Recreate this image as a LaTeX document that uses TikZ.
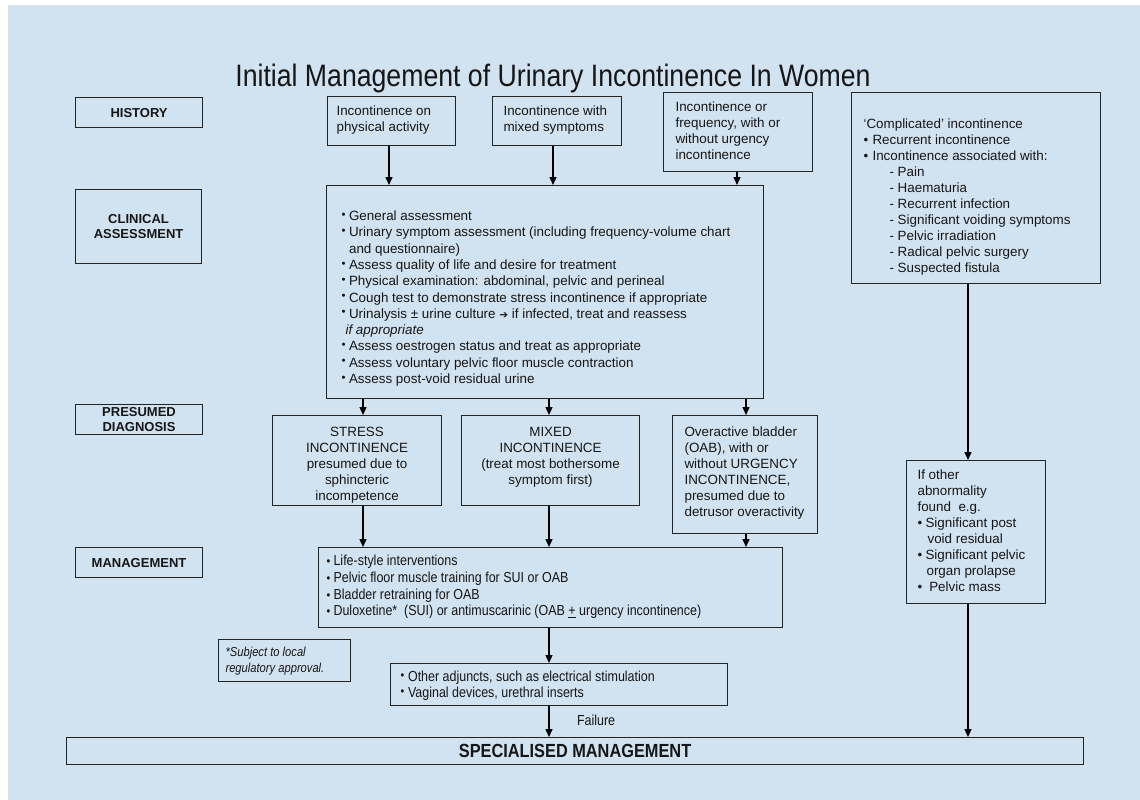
\documentclass[tikz,border=0pt]{standalone}
\usepackage{fontspec}
\setmainfont{Liberation Sans}
\newfontfamily\narrow[FakeStretch=0.86]{Liberation Sans}
\newfontfamily\dejavu{DejaVu Sans}
\usetikzlibrary{arrows.meta}
\definecolor{bgblue}{RGB}{209,226,240}
\definecolor{ink}{RGB}{22,22,22}
\definecolor{edge}{RGB}{35,35,35}
% width, height, first-baseline offset, left skip, alignment, content
\newcommand\bxt[6]{\parbox[c][#2][t]{#1}{#5\leftskip=#4\relax\vspace*{\dimexpr#3-0.7\baselineskip\relax}\strut#6\par}}
\newcommand\cbul{\makebox[7.5pt][l]{\raisebox{2.4pt}{\scalebox{0.85}{•}}}}
\newcommand\sbul[1]{\makebox[#1][l]{•}}
\newcommand\mbul{\makebox[7pt][l]{\scalebox{0.85}{•}}}
\newcommand\bodyfont{\fontsize{13.4}{16}\selectfont}
\newcommand\narrowfont{\narrow\fontsize{14.5}{16.8}\selectfont}
\tikzset{
  box/.style={draw=edge, line width=1.1pt, inner sep=0pt, anchor=north west, text=ink},
  lbl/.style={box, font=\bfseries\fontsize{13}{15.5}\selectfont, align=center},
  arr/.style={draw=black, line width=1.4pt, -{Triangle[length=8pt,width=7pt]}},
}
\begin{document}
\begin{tikzpicture}[x=1pt,y=-1pt]
\useasboundingbox (0,0) rectangle (1140,800);
\fill[white] (0,0) rectangle (1140,800);
\fill[bgblue] (8,5) rectangle (1140,800);

% title
\node[anchor=base, text=ink, font=\narrow\fontsize{31}{36}\selectfont] (title) at (553,86) {Initial Management of Urinary Incontinence In Women};

% row labels
\node[lbl, minimum width=127pt, minimum height=30pt] (lhist) at (75,97) {HISTORY};
\node[lbl, minimum width=126pt, minimum height=74pt] (lclin) at (75,189) {CLINICAL\\ASSESSMENT};
\node[lbl, minimum width=127pt, minimum height=30pt] (lpres) at (75,404) {PRESUMED\\DIAGNOSIS};
\node[lbl, minimum width=127pt, minimum height=30pt] (lman) at (75,547) {MANAGEMENT};

% history
\node[box, font=\bodyfont] (h1) at (327,96) {\bxt{128pt}{49pt}{19pt}{9pt}{\raggedright}{Incontinence on\\physical activity}};
\node[box, font=\bodyfont] (h2) at (492,96) {\bxt{129pt}{49pt}{19pt}{11pt}{\raggedright}{Incontinence with\\mixed symptoms}};
\node[box, font=\bodyfont] (h3) at (663,92) {\bxt{149pt}{79pt}{19pt}{12pt}{\raggedright}{Incontinence or\\frequency, with or\\without urgency\\incontinence}};
\node[box, font=\bodyfont] (comp) at (851,92) {\bxt{249pt}{191pt}{35.5pt}{12pt}{\raggedright}{‘Complicated’ incontinence\\
\sbul{9pt}Recurrent incontinence\\
\sbul{9pt}Incontinence associated with:\\
\hspace*{26pt}- Pain\\
\hspace*{26pt}- Haematuria\\
\hspace*{26pt}- Recurrent infection\\
\hspace*{26pt}- Significant voiding symptoms\\
\hspace*{26pt}- Pelvic irradiation\\
\hspace*{26pt}- Radical pelvic surgery\\
\hspace*{26pt}- Suspected fistula}};

% clinical assessment
\node[box, font=\fontsize{13.4}{16.3}\selectfont] (clin) at (326,185) {\bxt{437pt}{213pt}{35pt}{15pt}{\raggedright}{\cbul General assessment\\
\cbul Urinary symptom assessment (including frequency-volume chart\\
\hspace*{7.5pt}and questionnaire)\\
\cbul Assess quality of life and desire for treatment\\
\cbul Physical examination: abdominal, pelvic and perineal\\
\cbul Cough test to demonstrate stress incontinence if appropriate\\
\cbul Urinalysis ± urine culture {\dejavu\fontsize{10.5}{16}\selectfont ➔} if infected, treat and reassess\\
\hspace*{4pt}\textit{if appropriate}\\
\cbul Assess oestrogen status and treat as appropriate\\
\cbul Assess voluntary pelvic floor muscle contraction\\
\cbul Assess post-void residual urine}};

% presumed diagnosis
\node[box, font=\bodyfont] (stress) at (272,415) {\bxt{169pt}{90pt}{20.5pt}{0pt plus 1fil}{\centering}{STRESS\\INCONTINENCE\\presumed due to\\sphincteric\\incompetence}};
\node[box, font=\bodyfont] (mixed) at (461,415) {\bxt{178pt}{90pt}{20.5pt}{0pt plus 1fil}{\centering}{MIXED\\INCONTINENCE\\(treat most bothersome\\symptom first)}};
\node[box, font=\bodyfont] (oab) at (672,415) {\bxt{145pt}{118pt}{20.5pt}{12pt}{\raggedright}{Overactive bladder\\(OAB), with or\\without URGENCY\\INCONTINENCE,\\presumed due to\\detrusor overactivity}};
\node[box, font=\bodyfont] (other) at (906,460) {\bxt{139pt}{143pt}{18.5pt}{11pt}{\raggedright}{If other\\abnormality\\found\ \ e.g.\\
\sbul{8pt}Significant post\\
\hspace*{10pt}void residual\\
\sbul{8pt}Significant pelvic\\
\hspace*{9pt}organ prolapse\\
\sbul{8pt}\ Pelvic mass}};

% management
\node[box, font=\narrowfont] (mgmt) at (318,547) {\bxt{464pt}{80pt}{18pt}{8pt}{\raggedright}{\mbul Life-style interventions\\
\mbul Pelvic floor muscle training for SUI or OAB\\
\mbul Bladder retraining for OAB\\
\mbul Duloxetine*\ \ (SUI) or antimuscarinic (OAB \underline{+} urgency incontinence)}};
\node[box, font=\narrow\itshape\fontsize{13}{16}\selectfont] (foot) at (218,639) {\bxt{132pt}{42pt}{17pt}{7pt}{\raggedright}{*Subject to local\\regulatory approval.}};
\node[box, font=\fontsize{14.5}{16}\narrow\selectfont] (adj) at (390,663) {\bxt{337pt}{42pt}{18pt}{10pt}{\raggedright}{\cbul Other adjuncts, such as electrical stimulation\\
\cbul Vaginal devices, urethral inserts}};
\node[box, minimum width=1017pt, minimum height=27pt, font=\narrow\bfseries\fontsize{19}{22}\selectfont] (spec) at (66,737) {SPECIALISED MANAGEMENT};

% connectors
\draw[arr] (h1.south -| 389,0) -- (clin.north -| 389,0);
\draw[arr] (h2.south -| 553,0) -- (clin.north -| 553,0);
\draw[arr] (h3.south -| 737,0) -- (clin.north -| 737,0);
\draw[arr] (clin.south -| 363,0) -- (stress.north -| 363,0);
\draw[arr] (clin.south -| 549,0) -- (mixed.north -| 549,0);
\draw[arr] (clin.south -| 746,0) -- (oab.north -| 746,0);
\draw[arr] (stress.south -| 363,0) -- (mgmt.north -| 363,0);
\draw[arr] (mixed.south -| 549,0) -- (mgmt.north -| 549,0);
\draw[arr] (oab.south -| 746,0) -- (mgmt.north -| 746,0);
\draw[arr] (mgmt.south -| 549,0) -- (adj.north -| 549,0);
\draw[arr] (adj.south -| 549,0) -- node[pos=0.45, anchor=west, xshift=24pt, text=ink, font=\narrow\fontsize{14.5}{16}\selectfont] (fail) {Failure} (spec.north -| 549,0);
\draw[arr] (comp.south -| 968,0) -- (other.north -| 968,0);
\draw[arr] (other.south -| 968,0) -- (spec.north -| 968,0);
\end{tikzpicture}
\end{document}
